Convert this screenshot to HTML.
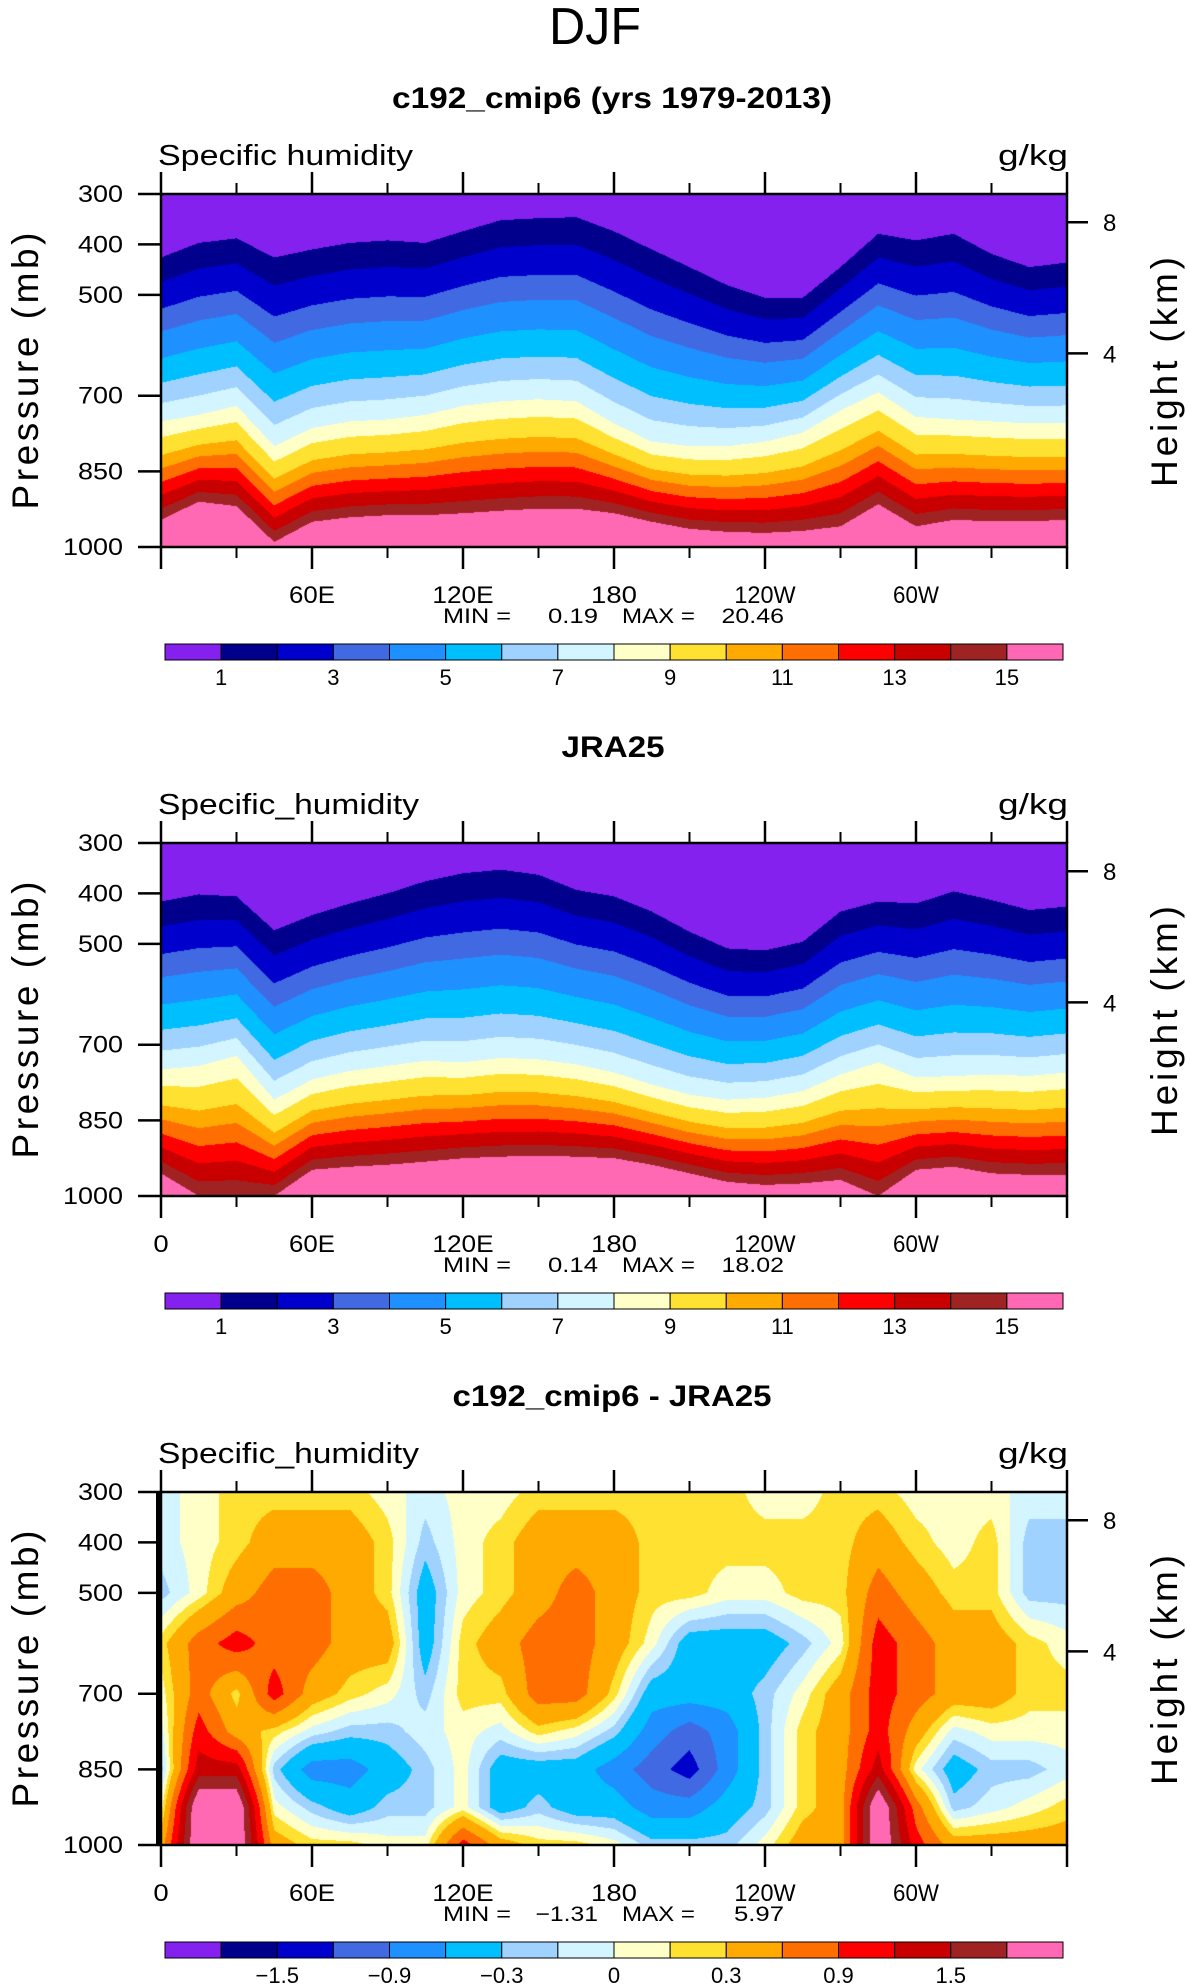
<!DOCTYPE html>
<html><head><meta charset="utf-8"><title>DJF Specific humidity</title>
<style>
html,body{margin:0;padding:0;background:#fff}
body{width:1190px;height:1987px;position:relative;overflow:hidden}
#cv,#ov{position:absolute;left:0;top:0}
text{font-family:"Liberation Sans",sans-serif;fill:#000}
</style></head>
<body>
<canvas id="cv" width="1190" height="1987"></canvas>
<svg id="ov" width="1190" height="1987">
<text x="595" y="44" font-size="52" text-anchor="middle" textLength="92" lengthAdjust="spacingAndGlyphs">DJF</text>
<text x="612" y="108" font-size="30" font-weight="bold" text-anchor="middle" textLength="440" lengthAdjust="spacingAndGlyphs">c192_cmip6 (yrs 1979-2013)</text>
<text x="613" y="757" font-size="30" font-weight="bold" text-anchor="middle" textLength="103" lengthAdjust="spacingAndGlyphs">JRA25</text>
<text x="612" y="1406" font-size="30" font-weight="bold" text-anchor="middle" textLength="319" lengthAdjust="spacingAndGlyphs">c192_cmip6 - JRA25</text>
<text x="158" y="165" font-size="29" textLength="255" lengthAdjust="spacingAndGlyphs">Specific humidity</text>
<text x="158" y="814" font-size="29" textLength="261" lengthAdjust="spacingAndGlyphs">Specific_humidity</text>
<text x="158" y="1463" font-size="29" textLength="261" lengthAdjust="spacingAndGlyphs">Specific_humidity</text>
<text x="998" y="165" font-size="29" textLength="70" lengthAdjust="spacingAndGlyphs">g/kg</text>
<text x="998" y="814" font-size="29" textLength="70" lengthAdjust="spacingAndGlyphs">g/kg</text>
<text x="998" y="1463" font-size="29" textLength="70" lengthAdjust="spacingAndGlyphs">g/kg</text>
</svg>
<script>
// ---- data ----
const lons = [0,15,30,45,60,75,90,105,120,135,150,165,180,195,210,225,240,255,270,285,300,315,330,345,360];
// panel 1 (c192_cmip6): pressure (mb) of 1, 8 and 15 g/kg contours
const m_b1  = [426,397,388,426,410,397,392,397,374,352,348,346,374,410,445,481,506,506,445,379,392,379,419,445,436];
const m_b8  = [751,738,720,800,764,751,747,738,720,711,707,711,755,791,800,800,791,773,729,693,742,747,751,755,755];
const m_b15 = [946,910,919,990,950,941,937,937,933,928,924,924,933,950,964,970,972,968,959,915,959,946,949,949,946];
// panel 2 (JRA25)
const j_b1  = [416,402,406,473,443,420,400,376,360,353,363,393,406,436,476,509,513,496,436,416,420,396,413,433,426];
const j_b8  = [749,742,722,809,769,752,742,732,735,726,729,739,755,779,799,809,805,792,759,735,765,762,759,762,755];
const j_b15 = [955,1000,1000,1000,948,942,938,932,925,922,920,922,925,938,955,972,978,975,968,1000,948,942,955,958,958];
// panel 3 difference (g/kg) on pressure levels
const diffPres = [300,400,500,600,700,775,850,925,1000];
const d300  = [-0.07,0.07,0.22,0.22,0.22,0.22,0.07,-0.07,0.07,0.07,0.22,0.22,0.22,0.22,0.22,0.22,0.07,0.07,0.22,0.22,0.07,0.07,0.07,-0.07,-0.07];
const d400  = [-0.07,0.07,0.22,0.45,0.45,0.45,0.22,-0.22,0.07,0.22,0.45,0.45,0.45,0.22,0.22,0.22,0.22,0.22,0.22,0.45,0.22,0.07,0.22,-0.22,-0.22];
const d500  = [-0.22,0.07,0.45,0.75,0.75,0.45,0.22,-0.45,0.07,0.22,0.45,0.75,0.45,0.22,0.22,0.07,0.07,0.22,0.22,0.75,0.45,0.22,0.22,-0.22,-0.22];
const d600  = [0.22,0.75,1.05,0.75,0.75,0.45,0.45,-0.45,0.22,0.45,0.75,0.75,0.45,0.07,-0.45,-0.45,-0.45,-0.22,0.07,1.05,0.75,0.45,0.45,0.22,0.07];
const d700  = [0.07,0.75,0.22,1.05,0.45,0.22,0.07,-0.22,0.22,0.22,0.75,0.75,0.22,-0.45,-0.45,-0.45,-0.22,0.07,0.45,1.05,0.75,0.45,0.45,0.22,0.22];
const d775  = [-0.07,1.05,0.45,0.22,-0.07,-0.22,-0.22,-0.07,0.07,-0.07,0.22,0.07,-0.22,-0.75,-1.05,-0.75,-0.22,0.22,0.45,1.05,0.45,-0.07,0.07,0.07,0.07];
const d850  = [-0.22,1.35,1.35,-0.22,-0.75,-0.75,-0.45,-0.22,0.07,-0.45,-0.45,-0.45,-0.75,-1.05,-1.35,-0.75,-0.22,0.22,0.45,1.35,0.07,-0.45,-0.22,-0.22,-0.07];
const d925  = [0.07,2.2,2.2,0.07,-0.22,-0.45,-0.22,-0.22,0.07,-0.45,-0.22,-0.45,-0.45,-0.75,-0.75,-0.45,-0.22,0.22,0.45,2.2,0.75,-0.22,-0.07,0.07,0.22];
const d1000 = [0.45,2.2,2.2,0.45,0.22,0.22,0.07,0.07,1.05,0.45,0.22,0.22,0.07,-0.22,-0.22,-0.22,0.07,0.45,0.45,2.2,1.05,0.45,0.45,0.45,0.45];
const diffLevels = [-1.8,-1.5,-1.2,-0.9,-0.6,-0.3,-0.15,0,0.15,0.3,0.6,0.9,1.2,1.5,1.8];
const colors = ["#8521EE","#00008C","#0000CD","#4169E1","#1E90FF","#00BFFF","#A0D2FF","#D2F5FF","#FFFFC8","#FFE132","#FFAA00","#FF6E00","#FF0000","#C80000","#A02323","#FF69B4"];
const presTicks = [300,400,500,700,850,1000];
const presLabels = ["300","400","500","700","850","1000"];
const heightTicks = [356,616];
const heightLabels = ["8","4"];
const majorLons = [0,60,120,180,240,300,360];
const minorLons = [30,90,150,210,270,330];
const xLabelLons = [0,60,120,180,240,300];
const xLabels = ["0","60E","120E","180","120W","60W"];
const cbBounds1 = [1,3,5,7,9,11,13,15];
const cbLabels1 = ["1","3","5","7","9","11","13","15"];
const cbBounds3 = [2,4,6,8,10,12,14];
const cbLabels3 = ["\u22121.5","\u22120.9","\u22120.3","0","0.3","0.9","1.5"];
const minmax = [["0.19","20.46"],["0.14","18.02"],["\u22121.31","5.97"]];

// ---- geometry ----
const X0=161, W=906, H=353, T0=194, DY=649;
const xOf = lon => X0 + lon/360*W;
const yOf = (p,k) => T0 + k*DY + (p-300)/700*H;
const upperFrac=[0,.149,.313,.451,.614,.764,.888,1];
const lowerFrac=[0,.161,.344,.479,.617,.749,.887,1];
function interpLon(arr, lon){
  const i=Math.min(lons.length-2, Math.floor(lon/15));
  const f=(lon-lons[i])/15;
  return arr[i]*(1-f)+arr[i+1]*f;
}
function classQ(p,b1,b8,b15){
  if(p<b1) return 0;
  if(p<=b8){const f=(p-b1)/Math.max(1,b8-b1);for(let i=0;i<7;i++) if(f<upperFrac[i+1]) return 1+i;return 8;}
  if(p<=b15){const f=(p-b8)/Math.max(1,b15-b8);for(let i=0;i<7;i++) if(f<lowerFrac[i+1]) return 8+i;return 15;}
  return 15;
}
const diffRows=[d300,d400,d500,d600,d700,d775,d850,d925,d1000];
function diffVal(lon,p){
  let j=0; while(j<diffPres.length-2 && p>diffPres[j+1]) j++;
  const g=(p-diffPres[j])/(diffPres[j+1]-diffPres[j]);
  return interpLon(diffRows[j],lon)*(1-g)+interpLon(diffRows[j+1],lon)*g;
}
function classD(v){let c=0;for(let i=0;i<diffLevels.length;i++) if(v>=diffLevels[i]) c=i+1;return c;}
const rgb=colors.map(h=>[parseInt(h.substr(1,2),16),parseInt(h.substr(3,2),16),parseInt(h.substr(5,2),16)]);

// ---- draw fields ----
const ctx=document.getElementById('cv').getContext('2d');
function drawField(k, fn){
  const img=ctx.createImageData(W,H);
  for(let px=0;px<W;px++){
    const lon=(px+0.5)/W*360;
    const st=fn(lon);
    for(let py=0;py<H;py++){
      const p=300+(py+0.5)/H*700;
      const c=rgb[st(p)];
      const o=(py*W+px)*4;
      img.data[o]=c[0];img.data[o+1]=c[1];img.data[o+2]=c[2];img.data[o+3]=255;
    }
  }
  ctx.putImageData(img,X0,T0+k*DY);
}
drawField(0, lon=>{const a=interpLon(m_b1,lon),b=interpLon(m_b8,lon),c=interpLon(m_b15,lon);return p=>classQ(p,a,b,c);});
drawField(1, lon=>{const a=interpLon(j_b1,lon),b=interpLon(j_b8,lon),c=interpLon(j_b15,lon);return p=>classQ(p,a,b,c);});
drawField(2, lon=>p=>classD(diffVal(lon,p)));

// ---- axes overlay ----
const NS='http://www.w3.org/2000/svg';
const svg=document.getElementById('ov');
function mk(tag,attrs,txt){const e=document.createElementNS(NS,tag);for(const k in attrs)e.setAttribute(k,attrs[k]);if(txt!==undefined)e.textContent=txt;svg.appendChild(e);return e;}
for(let k=0;k<3;k++){
  const top=T0+k*DY, bot=top+H;
  let el;
  el=mk('rect',{x:X0,y:top,width:W,height:H,fill:'none',stroke:'#000','stroke-width':2.5});
  
  
  if(k===2){
    el=mk('line',{x1:X0-2,y1:top,x2:X0-2,y2:bot,stroke:'#000','stroke-width':6});
    
    
  }
  majorLons.forEach(l=>{
    el=mk('line',{x1:xOf(l),y1:top-22,x2:xOf(l),y2:top,stroke:'#000','stroke-width':2.5});
    
    
    el=mk('line',{x1:xOf(l),y1:bot,x2:xOf(l),y2:bot+22,stroke:'#000','stroke-width':2.5});
    
    
  });
  minorLons.forEach(l=>{
    el=mk('line',{x1:xOf(l),y1:top-11,x2:xOf(l),y2:top,stroke:'#000','stroke-width':2});
    
    
    el=mk('line',{x1:xOf(l),y1:bot,x2:xOf(l),y2:bot+11,stroke:'#000','stroke-width':2});
    
    
  });
  xLabelLons.forEach((l,i)=>{
    if(k===0 && i===0) return;
    const s=xLabels[i];
    el=mk('text',{x:xOf(l),y:bot+56,'font-size':24,'text-anchor':'middle',textLength:s.length*15.3,lengthAdjust:'spacingAndGlyphs'},s);
    
    
  });
  presTicks.forEach((p,i)=>{
    const y=yOf(p,k);
    el=mk('line',{x1:X0-23,y1:y,x2:X0,y2:y,stroke:'#000','stroke-width':2.5});
    
    
    const s=presLabels[i];
    el=mk('text',{x:123,y:y+8,'font-size':24,'text-anchor':'end',textLength:s.length*15,lengthAdjust:'spacingAndGlyphs'},s);
    
    
  });
  heightTicks.forEach((p,i)=>{
    const y=yOf(p,k);
    el=mk('line',{x1:X0+W,y1:y,x2:X0+W+21,y2:y,stroke:'#000','stroke-width':2.5});
    
    
    el=mk('text',{x:1103,y:y+9,'font-size':24},heightLabels[i]);
    
    
  });
  el=mk('text',{transform:`translate(38,${top+177}) rotate(-90)`,'font-size':37,'text-anchor':'middle',textLength:277,lengthAdjust:'spacing'},'Pressure (mb)');
  
  
  el=mk('text',{transform:`translate(1177,${top+178}) rotate(-90)`,'font-size':37,'text-anchor':'middle',textLength:230,lengthAdjust:'spacing'},'Height (km)');
  
  
  // min / max
  const mmY=bot+76;
  el=mk('text',{x:443,y:mmY,'font-size':21,textLength:68,lengthAdjust:'spacingAndGlyphs'},'MIN =');
  
  
  el=mk('text',{x:598,y:mmY,'font-size':21,'text-anchor':'end',textLength:minmax[k][0].length*12.5,lengthAdjust:'spacingAndGlyphs'},minmax[k][0]);
  
  
  el=mk('text',{x:622,y:mmY,'font-size':21,textLength:73,lengthAdjust:'spacingAndGlyphs'},'MAX =');
  
  
  el=mk('text',{x:784,y:mmY,'font-size':21,'text-anchor':'end',textLength:minmax[k][1].length*12.5,lengthAdjust:'spacingAndGlyphs'},minmax[k][1]);
  
  
  // colorbar
  const cbT=644+k*DY, cbX=165, cbW=898, bw=cbW/16;
  colors.forEach((c,i)=>{
    el=mk('rect',{x:cbX+i*bw,y:cbT,width:bw,height:16,fill:c,stroke:'#000','stroke-width':1});
    
    
  });
  const bnds=(k===2)?cbBounds3:cbBounds1, labs=(k===2)?cbLabels3:cbLabels1;
  bnds.forEach((b,i)=>{
    el=mk('text',{x:cbX+b*bw,y:cbT+41,'font-size':22,'text-anchor':'middle'},labs[i]);
    
    
  });
}
</script>
</body></html>
